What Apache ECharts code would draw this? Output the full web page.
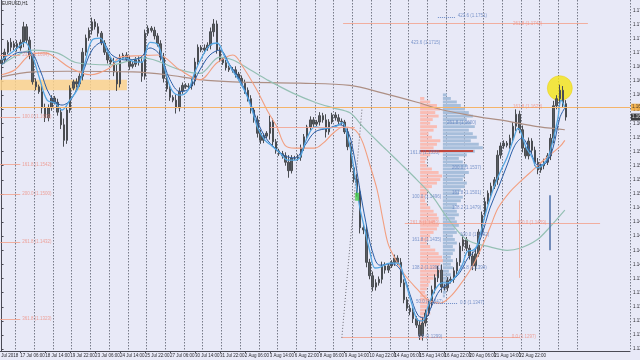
<!DOCTYPE html>
<html>
<head>
<meta charset="utf-8">
<script src="https://cdn.jsdelivr.net/npm/echarts@6/dist/echarts.min.js"></script>
<style>
  html, body { margin: 0; padding: 0; background: #e8e9f7; }
  #chart { width: 640px; height: 360px; }
</style>
</head>
<body>
<div id="chart"></div>
<script>
const firstOpen = 1.1685;
const closes = [
  1.1690,1.1701,1.1715,1.1708,1.1713,1.1707,1.1715,1.1737,1.1718,1.1696,
  1.1659,1.1652,1.1645,1.1622,1.1608,1.1622,1.1636,1.1630,1.1616,1.1598,
  1.1576,1.1619,1.1650,1.1659,1.1656,1.1667,1.1701,1.1721,1.1732,1.1744,
  1.1737,1.1728,1.1714,1.1701,1.1690,1.1687,1.1673,1.1656,1.1693,1.1697,
  1.1691,1.1681,1.1684,1.1690,1.1687,1.1667,1.1728,1.1735,1.1732,1.1724,
  1.1713,1.1694,1.1664,1.1649,1.1637,1.1633,1.1622,1.1646,1.1654,1.1652,
  1.1653,1.1660,1.1687,1.1708,1.1704,1.1707,1.1711,1.1730,1.1741,1.1704,
  1.1691,1.1686,1.1679,1.1676,1.1676,1.1670,1.1664,1.1657,1.1647,1.1635,
  1.1619,1.1605,1.1586,1.1576,1.1582,1.1586,1.1602,1.1574,1.1561,1.1557,
  1.1554,1.1545,1.1533,1.1551,1.1551,1.1552,1.1565,1.1581,1.1595,1.1605,
  1.1599,1.1602,1.1611,1.1605,1.1588,1.1602,1.1612,1.1608,1.1603,1.1602,
  1.1588,1.1567,1.1537,1.1521,1.1503,1.1452,1.1449,1.1403,1.1384,1.1368,
  1.1374,1.1379,1.1398,1.1392,1.1398,1.1403,1.1409,1.1403,1.1374,1.1350,
  1.1338,1.1333,1.1323,1.1314,1.1299,1.1317,1.1331,1.1345,1.1364,1.1381,
  1.1392,1.1368,1.1367,1.1377,1.1379,1.1391,1.1403,1.1426,1.1435,1.1423,
  1.1412,1.1398,1.1415,1.1446,1.1470,1.1489,1.1501,1.1511,1.1520,1.1555,
  1.1568,1.1572,1.1569,1.1579,1.1596,1.1613,1.1591,1.1565,1.1554,1.1575,
  1.1562,1.1545,1.1534,1.1540,1.1545,1.1554,1.1579,1.1625,1.1635,1.1647,
  1.1628,1.1609
];
// wick length beyond the body, in pips
const wick = [
  4,5,3,6,4,5,4,7,4,5, 4,5,3,8,6,5,4,3,5,6, 9,5,4,3,5,4,6,5,4,6,
  4,5,3,4,5,4,6,10,5,3, 4,5,3,4,5,8,5,4,3,5, 4,5,6,4,5,3,8,5,4,3,
  4,5,6,4,3,5,4,6,7,5, 4,3,4,3,4,5,3,4,5,4, 5,4,6,5,4,3,9,5,4,3,
  4,5,10,4,3,4,5,4,3,5, 4,3,5,4,8,4,3,4,5,4, 3,5,6,5,7,8,6,7,5,6,
  5,4,6,5,4,3,5,4,6,5, 4,5,6,4,6,7,5,4,6,5, 6,8,4,5,4,5,6,5,7,4,
  5,6,7,4,5,6,4,5,4,7, 5,4,3,5,6,7,5,6,4,5, 4,5,6,4,5,4,6,7,5,8,
  6,5
];

// moving averages, [bar, price]
const maFastLight = [[0,1.1690],[4.3,1.1704],[7.5,1.1715],[9.8,1.1697],[12.3,1.1662],[14.6,1.1633],[17.1,1.1629],[19.4,1.1619],[21.9,1.1633],[24.5,1.1650],[26.8,1.1687],[29.0,1.1718],[31.6,1.1721],[34.1,1.1701],[36.4,1.1687],[39.6,1.1693],[42.8,1.1687],[45.0,1.1687],[47.6,1.1715],[50.2,1.1711],[52.4,1.1676],[54.6,1.1647],[57.2,1.1640],[59.8,1.1647],[62.0,1.1673],[64.6,1.1697],[66.8,1.1711],[69.1,1.1714],[71.6,1.1694],[74.2,1.1674],[76.4,1.1659],[78.7,1.1639],[80.6,1.1615],[82.2,1.1593],[84.5,1.1576],[86.7,1.1568],[89.3,1.1558],[91.8,1.1548],[94.1,1.1548],[95.7,1.1552],[97.9,1.1579],[100.5,1.1595],[103.7,1.1593],[106.9,1.1595],[109.2,1.1601],[111.1,1.1579],[112.4,1.1551],[113.6,1.1516],[114.9,1.1480],[116.5,1.1449],[118.1,1.1418],[119.7,1.1395],[121.3,1.1396],[124.5,1.1402],[127.1,1.1402],[129.3,1.1378],[131.6,1.1343],[133.5,1.1321],[135.1,1.1320],[136.7,1.1340],[139.0,1.1364],[141.2,1.1374],[143.1,1.1374],[145.4,1.1382],[147.6,1.1398],[149.5,1.1419],[151.1,1.1420],[152.4,1.1426],[153.7,1.1446],[155.3,1.1474],[157.2,1.1501],[158.8,1.1520],[160.5,1.1537],[162.1,1.1552],[164.0,1.1576],[165.6,1.1593],[166.5,1.1588],[168.1,1.1567],[170.1,1.1552],[171.7,1.1537],[173.3,1.1540],[175.2,1.1552],[176.8,1.1576],[178.4,1.1608],[179.4,1.1633],[180.6,1.1623]];
const maFastDark = [[0,1.1683],[5.9,1.1701],[9.1,1.1701],[12.3,1.1676],[15.5,1.1640],[19.4,1.1626],[22.6,1.1636],[25.8,1.1669],[29.0,1.1704],[32.2,1.1715],[35.4,1.1697],[39.6,1.1690],[44.4,1.1693],[47.6,1.1707],[50.8,1.1697],[54.0,1.1662],[57.2,1.1645],[60.4,1.1650],[63.6,1.1676],[66.8,1.1697],[70.0,1.1704],[73.2,1.1683],[76.4,1.1662],[79.7,1.1630],[82.2,1.1601],[84.8,1.1579],[87.7,1.1565],[90.9,1.1554],[94.1,1.1551],[97.3,1.1569],[100.5,1.1588],[104.7,1.1593],[108.5,1.1598],[111.1,1.1588],[113.0,1.1555],[114.9,1.1506],[116.8,1.1460],[118.8,1.1420],[121.3,1.1399],[125.2,1.1401],[128.4,1.1389],[131.0,1.1357],[133.5,1.1328],[135.8,1.1324],[138.0,1.1342],[140.6,1.1364],[143.8,1.1374],[147.0,1.1389],[149.5,1.1409],[151.8,1.1420],[154.0,1.1442],[156.6,1.1480],[159.2,1.1508],[162.1,1.1541],[164.6,1.1569],[166.9,1.1579],[169.4,1.1562],[172.0,1.1541],[174.6,1.1544],[176.8,1.1565],[179.0,1.1608],[180.6,1.1622]];
const maSalmon = [[0,1.1669],[4.3,1.1676],[9.1,1.1697],[13.9,1.1700],[17.1,1.1694],[21.9,1.1679],[28.4,1.1669],[34.8,1.1679],[38.0,1.1694],[44.4,1.1696],[50.2,1.1697],[57.2,1.1676],[63.6,1.1662],[69.1,1.1686],[74.2,1.1697],[77.4,1.1680],[81.9,1.1647],[85.1,1.1619],[88.3,1.1595],[90.9,1.1569],[94.1,1.1565],[97.3,1.1565],[100.5,1.1565],[103.1,1.1572],[106.3,1.1586],[109.5,1.1595],[112.4,1.1593],[114.3,1.1586],[115.9,1.1572],[118.1,1.1541],[120.4,1.1506],[122.3,1.1463],[123.9,1.1430],[126.1,1.1409],[129.3,1.1385],[133.5,1.1364],[136.7,1.1350],[140.6,1.1345],[143.8,1.1354],[147.0,1.1371],[150.8,1.1396],[154.0,1.1425],[156.6,1.1452],[159.2,1.1480],[163.0,1.1503],[166.2,1.1517],[170.4,1.1534],[174.9,1.1552],[179.0,1.1567],[180.6,1.1576]];
const maGreen = [[0,1.1683],[10.1,1.1704],[17.8,1.1700],[24.2,1.1686],[34.8,1.1683],[45.4,1.1693],[57.2,1.1676],[63.6,1.1671],[70.0,1.1694],[74.2,1.1690],[79.7,1.1676],[85.1,1.1662],[93.4,1.1643],[101.1,1.1629],[106.3,1.1622],[111.7,1.1615],[115.9,1.1595],[122.3,1.1567],[127.7,1.1544],[133.2,1.1520],[138.3,1.1496],[142.8,1.1467],[149.2,1.1435],[156.6,1.1425],[162.1,1.1420],[166.2,1.1423],[171.7,1.1435],[175.8,1.1453],[180.6,1.1477]];
const maBrown = [[0,1.1666],[10.1,1.1673],[21.0,1.1674],[42.1,1.1673],[53.0,1.1669],[63.6,1.1662],[74.2,1.1659],[95.7,1.1657],[111.7,1.1654],[122.3,1.1643],[133.2,1.1630],[141.5,1.1619],[153.4,1.1609],[159.8,1.1605],[172.6,1.1595],[180.6,1.1591]];

// volume profile bins
const profileLevels = [
  1.1640,1.1635,1.1630,1.1625,1.1620,1.1615,1.1610,1.1605,1.1600,1.1595,
  1.1590,1.1585,1.1580,1.1575,1.1570,1.1565,1.1560,1.1555,1.1550,1.1545,
  1.1540,1.1535,1.1530,1.1525,1.1520,1.1515,1.1510,1.1505,1.1500,1.1495,
  1.1490,1.1485,1.1480,1.1475,1.1470,1.1465,1.1460,1.1455,1.1450,1.1445,
  1.1440,1.1435,1.1430,1.1425,1.1420,1.1415,1.1410,1.1405,1.1400,1.1395,
  1.1390,1.1385,1.1380,1.1375,1.1370,1.1365,1.1360,1.1355,1.1350,1.1345,
  1.1340,1.1335,1.1330,1.1325,1.1320,1.1315,1.1310,1.1305,1.1300,1.1295
];
const salmonVol = [
  0,5,12,20,24,18,22,15,12,20, 16,10,14,24,20,16,30,12,8,6,
  8,14,22,26,24,20,14,10,8,6, 6,8,12,16,20,22,18,22,20,16,
  12,10,8,12,18,22,26,28,24,22, 26,20,16,12,10,8,6,8,10,14,
  12,10,12,8,6,5,4,4,3,2
];
const blueVol = [
  4,8,14,18,22,26,30,24,28,32, 26,30,34,28,36,40,32,24,16,20,
  24,22,26,22,20,24,22,18,16,20, 18,14,12,14,16,12,14,16,12,14,
  10,12,14,10,12,10,8,10,8,10, 6,8,6,4,5,3,3,2,0,0,
  0,0,0,0,0,0,0,0,0,0
];
const pocLevel = 1.1561;

// horizontal price line and right-hand price tags
const orangeLevel = 1.1623;
const bidPrice = 1.1609;

// x-axis tick labels (every 8 bars from bar 6)
const xTickLabels = [
  '17 Jul 06:00','18 Jul 14:00','19 Jul 22:00','23 Jul 06:00','24 Jul 14:00','25 Jul 22:00',
  '27 Jul 06:00','30 Jul 14:00','31 Jul 22:00','2 Aug 06:00','3 Aug 14:00','6 Aug 22:00',
  '8 Aug 06:00','9 Aug 14:00','10 Aug 22:00','14 Aug 06:00','15 Aug 14:00','16 Aug 22:00',
  '20 Aug 06:00','21 Aug 14:00','22 Aug 22:00','24 Aug 06:00'
];
const firstTickBar = 6, barsPerTick = 8, barsPerDay = 6, lastSeparator = 185;
const yTickValues = [
  1.128,1.130,1.132,1.134,1.136,1.138,1.140,1.142,1.144,1.146,1.148,1.150,
  1.152,1.154,1.156,1.158,1.160,1.162,1.164,1.166,1.168,1.170,1.172,1.174,1.176
];

const nCats = 202;

// drawn objects: [x1, p1, x2, p2, style]
const objectLines = [
  [-0.5,orangeLevel,nCats - 0.5,orangeLevel,'orange'],
  [109.5,1.1742,188.0,1.1742,'fib'],
  [86.1,1.1595,113.3,1.1595,'fib'],
  [129.3,1.1459,191.9,1.1459,'fib'],
  [109.1,1.1297,166.2,1.1297,'fib'],
  [-0.5,1.1697,6.0,1.1697,'fib'],
  [-0.5,1.1609,6.0,1.1609,'fib'],
  [-0.5,1.1542,6.0,1.1542,'fib'],
  [-0.5,1.1500,6.0,1.1500,'fib'],
  [-0.5,1.1432,6.0,1.1432,'fib'],
  [-0.5,1.1323,6.0,1.1323,'fib'],
  [139.9,1.1751,145.4,1.1751,'blueDot'],
  [137.4,1.1345,146.3,1.1345,'blueDot'],
  [165.9,1.1491,165.9,1.1381,'fib'],
  [175.8,1.1498,175.8,1.1420,'blueBar'],
  [109.1,1.1296,115.6,1.1622,'greyDot'],
  [135.8,1.1276,193.8,1.1473,'salmonDash'],
  [134.2,pocLevel,151.2,pocLevel,'poc']
];
// labels: [x, price, text, style]
const objectLabels = [
  [146.3,1.1752,'423.6 (1.1751)','b'],
  [131.3,1.1715,'423.6 (1.1715)','b'],
  [142.8,1.1601,'261.8 (1.1600)','b'],
  [131.0,1.1558,'161.8 (1.1555)','b'],
  [144.4,1.1537,'200.0 (1.1537)','b'],
  [144.4,1.1501,'161.8 (1.1501)','b'],
  [131.6,1.1496,'100.0 (1.1496)','b'],
  [144.4,1.1480,'138.2 (1.1479)','b'],
  [131.6,1.1435,'161.8 (1.1435)','b'],
  [147.0,1.1442,'100.0 (1.1442)','b'],
  [131.6,1.1396,'138.2 (1.1391)','b'],
  [147.0,1.1395,'61.8 (1.1394)','b'],
  [132.9,1.1347,'50.0 (1.1347)','b'],
  [147.0,1.1345,'0.0 (1.1347)','b'],
  [133.5,1.1297,'0.0 (1.1299)','b'],
  [164.0,1.1742,'261.8 (1.1742)','s'],
  [164.0,1.1623,'161.8 (1.1623)','s'],
  [131.0,1.1459,'261.8 (1.1459)','s'],
  [165.3,1.1459,'100.0 (1.1459)','s'],
  [163.6,1.1297,'0.0 (1.1297)','s'],
  [6.6,1.1697,'23.6 (1.1694)','s'],
  [6.6,1.1609,'100.0 (1.1609)','s'],
  [6.6,1.1542,'161.8 (1.1542)','s'],
  [6.6,1.1500,'200.0 (1.1500)','s'],
  [6.6,1.1432,'261.8 (1.1432)','s'],
  [6.6,1.1323,'361.8 (1.1323)','s']
];
const bandBox = [[-0.5,1.1662],[40.2,1.1647]];
const highlight = [179.0,1.1650];
const arrowMark = [114.0,1.1496];

const cats = Array.from({ length: nCats }, (_, i) => String(i));

const candles = closes.map((c, i) => {
  const o = i === 0 ? firstOpen : closes[i - 1];
  const w = wick[i] * 0.0001;
  return [o, c, Math.min(o, c) - w, Math.max(o, c) + w];
});

const isTick = (i) => {
  const k = (i - firstTickBar) / barsPerTick;
  return i >= firstTickBar && Number.isInteger(k) && k < xTickLabels.length;
};

const lineStyles = {
  orange: { color: '#f4b46a', width: 1, type: 'solid' },
  fib: { color: '#f2a38f', width: 1, type: 'solid', opacity: 0.85 },
  blueDot: { color: '#6d8cc6', width: 1, type: [1, 1] },
  blueBar: { color: '#4d6da6', width: 1.5, type: 'solid' },
  greyDot: { color: '#6b6b74', width: 1, type: [1, 2] },
  salmonDash: { color: '#f3a39a', width: 1, type: [2, 2] },
  poc: { color: '#c0463e', width: 2, type: 'solid' }
};
const labelColors = { b: '#5f7fbf', s: '#ef8f82' };

function profileSeries(name, vols, baseX, barsPerUnit, color) {
  return {
    name, type: 'custom', xAxisIndex: 1, z: 1, silent: true,
    data: profileLevels.map((p, i) => [p, vols[i]]),
    renderItem: (params, api) => {
      const p = api.value(0), v = api.value(1);
      if (!v) return null;
      const a = api.coord([baseX, p]);
      const b = api.coord([baseX + v * barsPerUnit, p]);
      const h = api.size([0, 0.0005])[1];
      return {
        type: 'rect',
        shape: { x: a[0], y: a[1] - h / 2, width: b[0] - a[0], height: Math.max(h - 0.6, 1) },
        style: { fill: color }
      };
    }
  };
}

const maLine = (name, data, color, width) => ({
  name, type: 'line', xAxisIndex: 1, data, smooth: 0.35, showSymbol: false,
  silent: true, z: 4, lineStyle: { color, width }
});

const priceTag = (price, bg, fg) => ({
  value: [nCats - 0.5, price],
  itemStyle: { color: bg },
  label: { formatter: price.toFixed(5), color: fg }
});

const chart = echarts.init(document.getElementById('chart'));
const font = 'Liberation Sans, Arial, sans-serif';

const option = {
  animation: false,
  backgroundColor: '#e8e9f7',
  textStyle: { fontFamily: font },
  grid: { left: 0, right: 10, top: 0, bottom: 9, containLabel: false, outerBoundsMode: 'none' },
  graphic: [
    { type: 'text', left: 2, top: 1, style: { text: 'EURUSD,H1', fontSize: 4.5, fill: '#222', fontFamily: font } },
    { type: 'text', left: -5, top: 353, style: { text: '16 Jul 2018', fontSize: 4.5, fill: '#2a2a30', fontFamily: font } }
  ],
  xAxis: [
    {
      type: 'category', data: cats, boundaryGap: true,
      axisLine: { show: true, lineStyle: { color: '#4a4a55', width: 1 } },
      axisTick: { show: true, interval: isTick, alignWithLabel: true, length: 2, lineStyle: { color: '#4a4a55' } },
      axisLabel: {
        interval: isTick, margin: 2, fontSize: 4.5, color: '#2a2a30', align: 'left',
        formatter: (val, i) => xTickLabels[(i - firstTickBar) / barsPerTick] || ''
      },
      splitLine: {
        show: true,
        interval: (i) => i % barsPerDay === barsPerDay - 1 && i <= lastSeparator,
        lineStyle: { color: '#777a88', width: 1, type: [1.5, 1.5] }
      }
    },
    { type: 'value', min: -0.5, max: nCats - 0.5, show: false }
  ],
  yAxis: {
    type: 'value', position: 'right', min: 1.12773, max: 1.1775, scale: true,
    splitLine: { show: false },
    axisLine: { show: true, lineStyle: { color: '#4a4a55', width: 1 } },
    axisTick: { show: true, length: 2, customValues: yTickValues, lineStyle: { color: '#4a4a55' } },
    axisLabel: {
      customValues: yTickValues, fontSize: 4.5, color: '#2a2a30', margin: 3,
      formatter: (v) => v.toFixed(5)
    }
  },
  series: [
    {
      name: 'objects', type: 'line', xAxisIndex: 1, data: [], z: 1, silent: true,
      markArea: {
        silent: true,
        itemStyle: { color: 'rgba(252, 210, 140, 0.85)' },
        data: [[{ coord: bandBox[0] }, { coord: bandBox[1] }]]
      }
    },
    profileSeries('profileSalmon', salmonVol, 134.2, 0.27, '#f9bcb4'),
    profileSeries('profileBlue', blueVol, 141.5, 0.32, '#a7bedb'),
    {
      name: 'highlight', type: 'scatter', xAxisIndex: 1, z: 2, silent: true,
      data: [highlight], symbolSize: 25,
      itemStyle: { color: '#f4e414', borderColor: '#e8c800', borderWidth: 0.5 }
    },
    {
      name: 'EURUSD', type: 'candlestick', xAxisIndex: 0, z: 3, data: candles,
      barWidth: 2, silent: true,
      itemStyle: { color: '#595d62', color0: '#595d62', borderColor: '#4a4d52', borderColor0: '#4a4d52', borderWidth: 1 }
    },
    maLine('MA200', maBrown, '#ad8f84', 1.2),
    maLine('MA100', maGreen, '#95c0b4', 1.2),
    maLine('MA50', maSalmon, '#f29f80', 1.1),
    maLine('MA20', maFastDark, '#2b5fa8', 1),
    maLine('MA10', maFastLight, '#55a6e2', 1.3),
    {
      name: 'drawings', type: 'line', xAxisIndex: 1, data: [], z: 5, silent: true,
      markLine: {
        symbol: ['none', 'none'], silent: true, label: { show: false },
        data: objectLines.map(([x1, p1, x2, p2, s]) => [
          { coord: [x1, p1], lineStyle: lineStyles[s] },
          { coord: [x2, p2] }
        ])
      }
    },
    {
      name: 'labels', type: 'scatter', xAxisIndex: 1, z: 6, silent: true, symbolSize: 0,
      data: objectLabels.map(([x, p, t, c]) => ({
        name: t, value: [x, p],
        label: { color: labelColors[c] }
      })),
      label: { show: true, position: 'right', distance: 0, formatter: '{b}', fontSize: 4.5 }
    },
    {
      name: 'arrow', type: 'scatter', xAxisIndex: 1, z: 6, silent: true,
      data: [arrowMark], symbol: 'rect', symbolSize: [4, 8],
      itemStyle: { color: '#49cc49' }
    },
    {
      name: 'tags', type: 'scatter', xAxisIndex: 1, z: 7, silent: true, clip: false,
      symbol: 'rect', symbolSize: [24, 7], symbolOffset: [13, 0],
      data: [priceTag(orangeLevel, '#f5a52a', '#222'), priceTag(bidPrice, '#111', '#fff')],
      label: { show: true, position: 'insideLeft', distance: 1, fontSize: 4.5 }
    }
  ]
};

chart.setOption(option);
</script>
</body>
</html>
